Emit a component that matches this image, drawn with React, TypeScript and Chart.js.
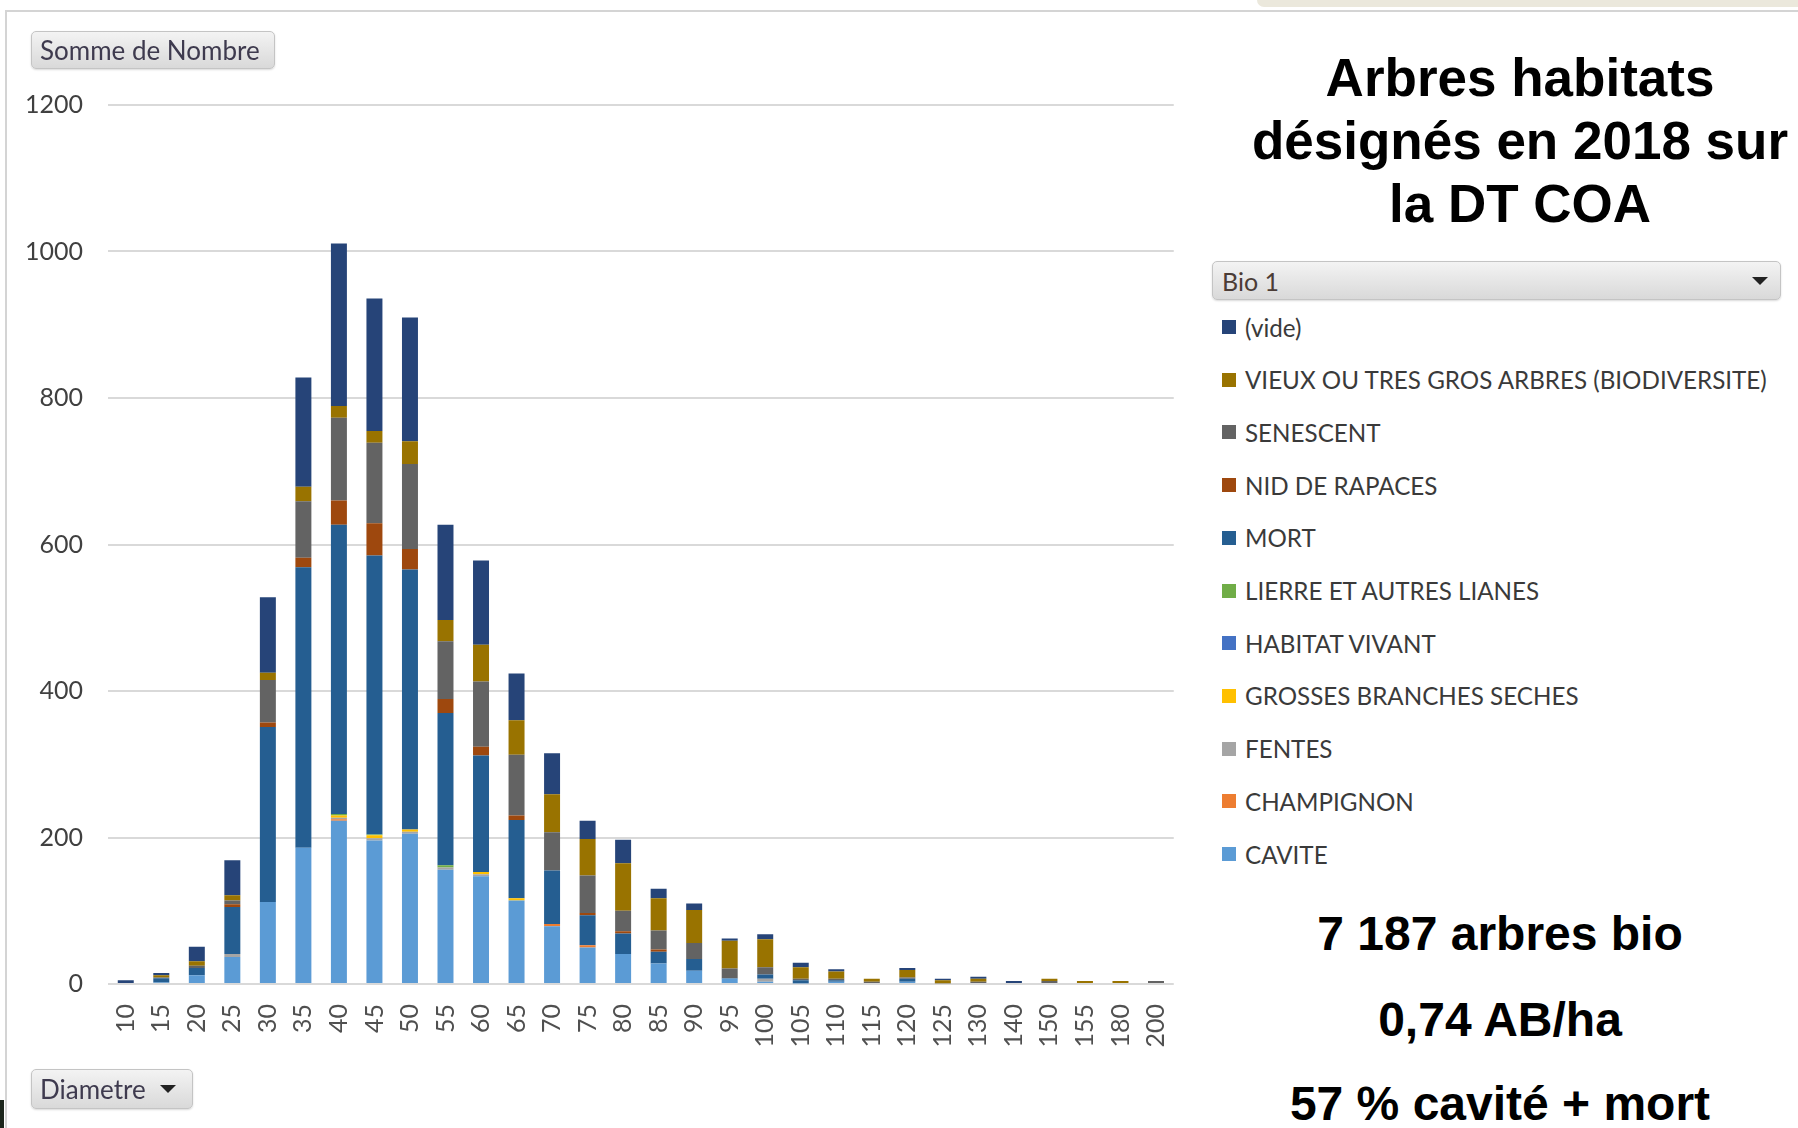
import React, { useEffect, useRef } from "react";
import { Chart, registerables } from "chart.js";

Chart.register(...registerables);

const diameters = ["10","15","20","25","30","35","40","45","50","55","60","65","70","75","80","85","90","95","100","105","110","115","120","125","130","140","150","155","180","200"];

const cavite     = [0,2,12,37,112,186,223,196,205,156,147,114,79,50,41,28,18,7,3,1,3,0,3,0,0,0,0,0,0,0];
const champignon = [0,0,0,0,0,0,2,0,0,0,0,0,3,3,0,0,0,0,0,0,0,0,0,0,0,0,0,0,0,0];
const fentes     = [0,0,0,4,0,0,2,3,3,3,3,0,0,0,0,0,0,0,4,0,0,0,0,0,0,0,0,0,0,0];
const grosses    = [0,0,0,0,0,0,3,4,3,0,3,3,0,0,0,0,0,0,0,0,0,0,0,0,0,0,0,0,0,0];
const habitat    = [0,0,0,0,0,0,0,0,0,0,0,0,0,0,0,0,0,0,0,0,0,0,0,0,0,0,0,0,0,0];
const lierre     = [0,0,0,0,0,0,2,1,0,3,0,0,0,0,0,0,0,0,0,0,0,0,0,0,0,0,0,0,0,0];
const mort       = [0,6,10,64,239,383,395,381,355,208,159,107,73,41,28,16,16,1,6,4,2,0,4,0,0,0,0,0,0,0];
const nid        = [0,0,0,4,6,13,33,44,28,19,12,6,0,3,3,3,0,0,0,0,0,0,0,0,0,0,0,0,0,0];
const senescent  = [0,1,3,5,58,77,113,110,116,79,89,83,52,51,28,26,22,13,10,2,2,3,2,1,3,0,4,0,0,4];
const vieux      = [0,3,6,7,10,20,16,16,31,29,50,47,52,50,65,44,45,38,38,16,10,4,10,4,4,0,3,4,4,0];
const vide       = [5,3,20,48,103,149,222,181,169,130,115,64,56,25,32,13,9,3,7,6,3,0,3,2,3,4,0,0,0,0];

const yTicks = [0, 200, 400, 600, 800, 1000, 1200];

// bottom-to-top stacking order
const seriesNames = ["CAVITE","CHAMPIGNON","FENTES","GROSSES BRANCHES SECHES","HABITAT VIVANT","LIERRE ET AUTRES LIANES","MORT","NID DE RAPACES","SENESCENT","VIEUX OU TRES GROS ARBRES (BIODIVERSITE)","(vide)"];
const seriesData = [cavite, champignon, fentes, grosses, habitat, lierre, mort, nid, senescent, vieux, vide];
const seriesColors = ["#5b9bd5","#ed7d31","#a5a5a5","#ffc000","#4472c4","#70ad47","#255e91","#9e480e","#636363","#997300","#264478"];

const titleLines = ["Arbres habitats", "désignés en 2018 sur", "la DT COA"];
const statLines = ["7 187 arbres bio", "0,74 AB/ha", "57 % cavité + mort"];

const uiFont = "Lato, 'Open Sans', sans-serif";
const boldFont = "'Liberation Sans', Arial, sans-serif";

export default function App() {
  const ref = useRef<HTMLCanvasElement | null>(null);

  useEffect(() => {
    document.body.style.margin = "0";
    const canvas = ref.current;
    if (!canvas) return;
    const chart = new Chart(canvas, {
      type: "bar",
      data: {
        labels: diameters,
        datasets: seriesNames.map((name, i) => ({
          label: name,
          data: seriesData[i],
          backgroundColor: seriesColors[i],
          borderWidth: 0,
          categoryPercentage: 1,
          barPercentage: 0.45,
        })),
      },
      options: {
        animation: false,
        responsive: false,
        devicePixelRatio: 1,
        layout: { padding: { top: 105, right: 0, left: 0, bottom: 0 } },
        plugins: { legend: { display: false }, tooltip: { enabled: false }, title: { display: false } },
        scales: {
          x: {
            stacked: true,
            grid: { display: false },
            border: { display: false },
            ticks: {
              minRotation: 90,
              maxRotation: 90,
              autoSkip: false,
              padding: 12,
              color: "#505050",
              font: { family: uiFont, size: 25 },
            },
            afterFit: (s: any) => { s.height = 144; },
          },
          y: {
            stacked: true,
            min: 0,
            max: 1200,
            afterBuildTicks: (s: any) => { s.ticks = yTicks.map((v) => ({ value: v })); },
            ticks: {
              padding: 25,
              color: "#404040",
              font: { family: uiFont, size: 25 },
              callback: (v: any) => String(v),
            },
            grid: { color: "#d9d9d9", lineWidth: 2, drawTicks: false },
            border: { display: false },
            afterFit: (s: any) => { s.width = 108; },
          },
        },
      },
    });
    if ((document as any).fonts && (document as any).fonts.load) {
      Promise.all([
        (document as any).fonts.load("24px Lato"),
        (document as any).fonts.load("bold 50px 'Liberation Sans'"),
      ]).then(() => { try { chart.update(); } catch (e) {} }).catch(() => {});
    }
    return () => { chart.destroy(); };
  }, []);

  const legendItems = seriesNames.map((n, i) => ({ name: n, color: seriesColors[i] })).reverse();

  const btn: React.CSSProperties = {
    position: "absolute",
    boxSizing: "border-box",
    border: "1px solid #c4c4c4",
    borderRadius: 5,
    background: "linear-gradient(#f3f3f3, #d9d9d9)",
    boxShadow: "0 1px 2px rgba(0,0,0,0.15)",
    fontFamily: uiFont,
    fontSize: 26,
    color: "#3e3a4e",
    display: "flex",
    alignItems: "center",
    paddingLeft: 8,
  };

  const tri = (size: number): React.CSSProperties => ({
    width: 0, height: 0,
    borderLeft: `${size}px solid transparent`,
    borderRight: `${size}px solid transparent`,
    borderTop: `${size}px solid #222`,
  });

  return (
    <div style={{ position: "absolute", left: 0, top: 0, width: 1798, height: 1128, overflow: "hidden", background: "#fff" }}>
      {/* frame */}
      <div style={{ position: "absolute", left: 1257, top: 0, width: 541, height: 7, background: "#ebe8dc", borderBottomLeftRadius: 10 }} />
      <div style={{ position: "absolute", left: 5, top: 10, width: 1793, height: 2, background: "#d4d4d4" }} />
      <div style={{ position: "absolute", left: 5, top: 10, width: 2, height: 1118, background: "#d4d4d4" }} />
      <div style={{ position: "absolute", left: 0, top: 1100, width: 4, height: 28, background: "#1c261c" }} />

      <canvas ref={ref} width={1198} height={1128} style={{ position: "absolute", left: 0, top: 0, width: 1198, height: 1128 }} />

      {/* pivot buttons */}
      <div style={{ ...btn, left: 31, top: 31, width: 244, height: 38 }}>Somme de Nombre</div>
      <div style={{ ...btn, left: 31, top: 1069, width: 162, height: 40 }}>
        <span>Diametre</span>
        <span style={{ marginLeft: 14, ...tri(8) }} />
      </div>

      {/* title */}
      {titleLines.map((t, i) => (
        <div key={t} style={{ position: "absolute", left: 1220, width: 600, top: 51 + i * 63, textAlign: "center", fontFamily: boldFont, fontWeight: 700, fontSize: 53, lineHeight: "53px", color: "#000", whiteSpace: "nowrap" }}>{t}</div>
      ))}

      {/* legend header */}
      <div style={{ ...btn, left: 1212, top: 261, width: 569, height: 39, paddingLeft: 9, color: "#4b3c36", fontSize: 25 }}>
        <span style={{ flex: 1 }}>Bio 1</span>
        <span style={{ marginRight: 12, ...tri(8) }} />
      </div>

      {/* legend items */}
      {legendItems.map((it, i) => (
        <div key={it.name} style={{ position: "absolute", left: 1222, top: 327 + i * 52.7 - 15, height: 30, display: "flex", alignItems: "center", whiteSpace: "nowrap" }}>
          <span style={{ width: 14, height: 14, background: it.color, display: "inline-block", marginRight: 9 }} />
          <span style={{ fontFamily: uiFont, fontSize: 24.2, color: "#3a3a3a" }}>{it.name}</span>
        </div>
      ))}

      {/* stats */}
      {statLines.map((t, i) => (
        <div key={t} style={{ position: "absolute", left: 1200, width: 600, top: [951, 1037, 1121][i] - 41, textAlign: "center", fontFamily: boldFont, fontWeight: 700, fontSize: 48, lineHeight: "48px", color: "#000", whiteSpace: "nowrap" }}>{t}</div>
      ))}
    </div>
  );
}
